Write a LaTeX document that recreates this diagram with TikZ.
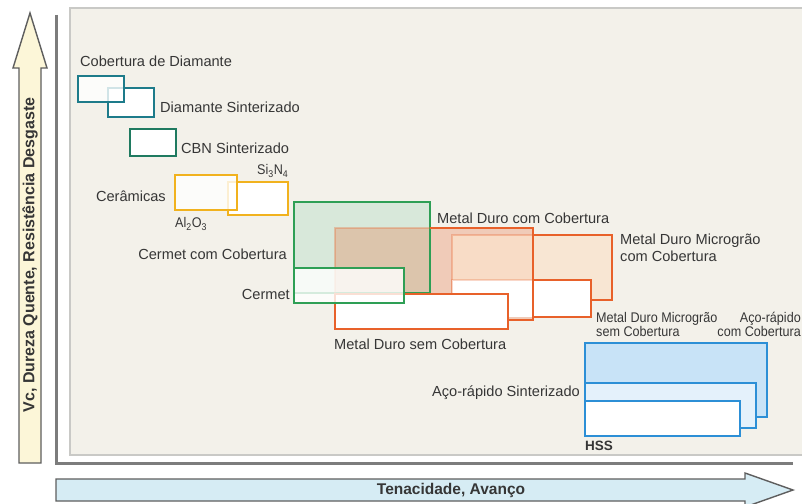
\documentclass[tikz,border=0pt]{standalone}
\usepackage{fontspec}
\setmainfont{Liberation Sans}
\definecolor{txt}{HTML}{363636}
\definecolor{panel}{HTML}{F3F1EA}
\definecolor{panelborder}{HTML}{C9C9C6}
\definecolor{axisgray}{HTML}{7C7C7C}
\definecolor{arrowgray}{HTML}{5E5E5E}
\definecolor{upfill}{HTML}{FCF6D8}
\definecolor{rightfill}{HTML}{D6ECF4}
\definecolor{diateal}{HTML}{1D7B8A}
\definecolor{cbn}{HTML}{1F7A60}
\definecolor{ceryel}{HTML}{F1B21E}
\definecolor{cgreen}{HTML}{2E9F55}
\definecolor{cgreenfill}{HTML}{D8E8DA}
\definecolor{mdorange}{HTML}{E8612A}
\definecolor{mdmfill}{HTML}{FBE3CC}
\definecolor{hssblue}{HTML}{2C8FD6}
\definecolor{hssfill}{HTML}{C8E3F7}
\definecolor{hssfilltwo}{HTML}{E4F1FB}
\begin{document}
\begin{tikzpicture}[x=1pt,y=-1pt,
  lbl/.style={font=\fontsize{14.6}{17}\selectfont, text=txt, inner sep=0pt, align=left},
  slbl/.style={font=\fontsize{14}{14}\selectfont\addfontfeature{FakeStretch=0.9}, text=txt, inner sep=0pt, align=left},
  bx/.style={line width=2.2pt},
  axislbl/.style={font=\bfseries\fontsize{16}{18}\selectfont, text=txt, inner sep=0pt}
]
\useasboundingbox (0,0) rectangle (802,503);
\fill[white] (0,0) rectangle (802,503);
% panel
\draw[panelborder, line width=1.2pt, fill=panel] (70,8) rectangle (808,455);
% axes lines
\draw[axisgray, line width=3pt] (56,15) -- (56,463) -- (793,463);
% up arrow
\draw[arrowgray, line width=1.4pt, fill=upfill, line join=miter]
  (19,463) -- (19,68) -- (13,68) -- (30,13) -- (47,68) -- (41,68) -- (41,463) -- cycle;
\node[axislbl, rotate=90] (ylab) at (30,255) {Vc, Dureza Quente, Resistência Desgaste};
% right arrow
\draw[arrowgray, line width=1.4pt, fill=rightfill, line join=miter]
  (56,479) -- (745,479) -- (745,473) -- (793,490) -- (745,507) -- (745,501) -- (56,501) -- cycle;
\node[axislbl, font=\bfseries\fontsize{15.5}{18}\selectfont] (xlab) at (451,490) {Tenacidade, Avanço};

% diamond
\draw[bx, diateal, fill=white] (108,88) rectangle (154,117);
\draw[bx, diateal, fill=white, fill opacity=0.8] (78,76) rectangle (124,102);
% CBN
\draw[bx, cbn, fill=white] (130,129) rectangle (176,156);
% ceramics
\draw[bx, ceryel, fill=white] (228,182) rectangle (288,215);
\draw[bx, ceryel, fill=white, fill opacity=0.8] (175,175) rectangle (237,210);

% cermet / metal duro cluster
\fill[cgreenfill] (294,202) rectangle (430,293);
\fill[mdorange, opacity=0.26] (335,228) rectangle (533,320);
\draw[bx, cgreen] (294,202) rectangle (430,293);
\draw[bx, mdorange, opacity=0.3] (335,320) -- (335,228) -- (430,228);
% microgrão com cobertura
\fill[mdmfill, opacity=0.75] (452,235) rectangle (612,300);
\draw[bx, mdorange, opacity=0.3] (452,300) -- (452,235) -- (533,235);
\draw[bx, mdorange] (533,235) -- (612,235) -- (612,300) -- (591,300);
% microgrão sem cobertura
\fill[white] (452,280) rectangle (591,317);
\draw[bx, mdorange, opacity=0.25] (452,317) -- (452,280) -- (533,280);
\draw[bx, mdorange] (533,280) -- (591,280) -- (591,317) -- (533,317);
% metal duro com cobertura solid edges
\draw[bx, mdorange] (430,228) -- (533,228) -- (533,320) -- (500,320);
% metal duro sem cobertura
\draw[bx, mdorange, fill=white] (335,294) rectangle (508,329);
% cermet
\draw[bx, cgreen, fill=white, fill opacity=0.8] (294,268) rectangle (404,303);

% HSS family
\draw[bx, hssblue, fill=hssfill] (585,343) rectangle (767,417);
\draw[bx, hssblue, fill=hssfilltwo] (585,383) rectangle (756,428);
\draw[bx, hssblue, fill=white] (585,401) rectangle (740,436);

% labels
\node[lbl, anchor=west] (l1) at (80,61) {Cobertura de Diamante};
\node[lbl, anchor=west] (l2) at (160,107) {Diamante Sinterizado};
\node[lbl, anchor=west] (l3) at (181,148) {CBN Sinterizado};
\node[slbl, anchor=west] (l4) at (257,171) {Si\textsubscript{3}N\textsubscript{4}};
\node[lbl, anchor=east] (l5) at (166,196) {Cerâmicas};
\node[slbl, anchor=west] (l6) at (175,224) {Al\textsubscript{2}O\textsubscript{3}};
\node[lbl, anchor=east] (l7) at (287,254) {Cermet com Cobertura};
\node[lbl, anchor=east] (l8) at (290,294) {Cermet};
\node[lbl, anchor=west] (l9) at (437,218) {Metal Duro com Cobertura};
\node[lbl, anchor=west] (l10) at (334,344) {Metal Duro sem Cobertura};
\node[lbl, anchor=west] (l11) at (620,248) {Metal Duro Microgrão\\com Cobertura};
\node[slbl, anchor=west] (l12) at (596,324) {Metal Duro Microgrão\\sem Cobertura};
\node[slbl, anchor=east, align=right] (l13) at (801,324) {Aço-rápido\\com Cobertura};
\node[lbl, anchor=east] (l14) at (580,393) {Aço-rápido Sinterizado};
\node[lbl, anchor=west, font=\bfseries\fontsize{13.5}{16}\selectfont] (l15) at (585,446) {HSS};
\end{tikzpicture}
\end{document}
